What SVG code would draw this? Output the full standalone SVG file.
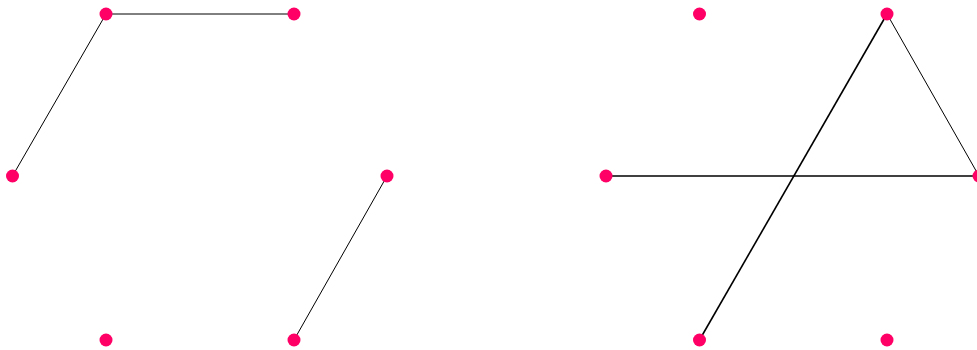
<svg xmlns="http://www.w3.org/2000/svg" width="977" height="350" viewBox="0 0 977 350">
<style>
.n{fill:#ff0066}
.e{stroke:#000;stroke-width:1;fill:none}
.t{stroke:#000;stroke-width:1.6;fill:none}
</style>
<rect width="977" height="350" fill="#fff"/>
<g id="edges">
<line class="e" x1="106" y1="14" x2="294" y2="14"/>
<line class="e" x1="106" y1="14" x2="12.5" y2="176"/>
<line class="e" x1="387" y1="176" x2="294" y2="340"/>
<line class="t" x1="606" y1="176" x2="979" y2="176"/>
<line class="t" x1="699.5" y1="340" x2="887" y2="14"/>
<line class="e" x1="887" y1="14" x2="979" y2="176"/>
</g>
<g id="n1"><circle class="n" cx="106" cy="14" r="6.5"/></g>
<g id="n2"><circle class="n" cx="294" cy="14" r="6.5"/></g>
<g id="n3"><circle class="n" cx="12.5" cy="176" r="6.5"/></g>
<g id="n4"><circle class="n" cx="387" cy="176" r="6.5"/></g>
<g id="n5"><circle class="n" cx="106" cy="340" r="6.5"/></g>
<g id="n6"><circle class="n" cx="294" cy="340" r="6.5"/></g>
<g id="m1"><circle class="n" cx="699.5" cy="14" r="6.5"/></g>
<g id="m2"><circle class="n" cx="887" cy="14" r="6.5"/></g>
<g id="m3"><circle class="n" cx="606" cy="176" r="6.5"/></g>
<g id="m4"><circle class="n" cx="979" cy="176" r="6.5"/></g>
<g id="m5"><circle class="n" cx="699.5" cy="340" r="6.5"/></g>
<g id="m6"><circle class="n" cx="887" cy="340" r="6.5"/></g>
</svg>
